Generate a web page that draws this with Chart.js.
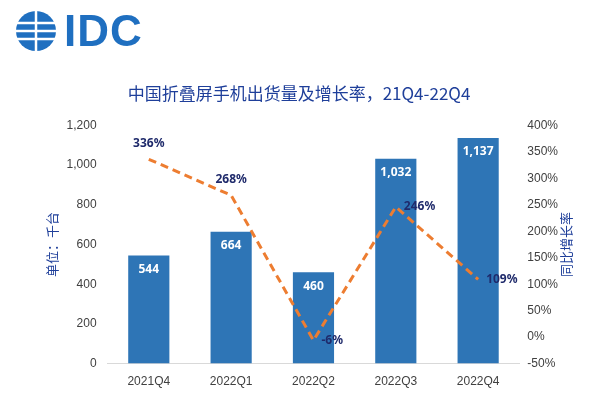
<!DOCTYPE html>
<html><head><meta charset="utf-8">
<script src="https://cdn.jsdelivr.net/npm/chart.js@4"></script>
<style>
body{margin:0;background:#fff;font-family:"Noto Sans CJK SC","Noto Sans",sans-serif}
#wrap{position:relative;width:600px;height:400px}
#logo{position:absolute;left:14px;top:6px;display:flex;align-items:center}
#logo span{font:bold 44px "Liberation Sans",Arial,sans-serif;color:#1f6fc0;margin-left:6px;letter-spacing:1px}
</style></head><body>
<div id="wrap">
<div id="logo"><svg width="44" height="44" viewBox="0 0 44 44">
<circle cx="22" cy="22" r="20" fill="#1f6fc0"/>
<g stroke="#fff" stroke-width="2.5"><line x1="2" y1="14" x2="42" y2="14"/><line x1="2" y1="22" x2="42" y2="22"/><line x1="2" y1="30" x2="42" y2="30"/><line x1="22" y1="2" x2="22" y2="42"/></g>
</svg><span>IDC</span></div>
<canvas id="c" width="600" height="400"></canvas>
</div>
<script>
const quarters = ['2021Q4', '2022Q1', '2022Q2', '2022Q3', '2022Q4'];
const shipments = [544, 664, 460, 1032, 1137];
const growth = [336, 268, -6, 246, 109];

const labelPlugin = {
  id: 'labels',
  afterDatasetsDraw(chart) {
    const ctx = chart.ctx;
    ctx.save();
    ctx.font = 'bold 12px "Noto Sans", sans-serif';
    chart.getDatasetMeta(1).data.forEach((bar, i) => {
      ctx.fillStyle = '#fff';
      ctx.textAlign = 'center';
      ctx.textBaseline = 'top';
      ctx.fillText(shipments[i].toLocaleString('en-US'), bar.x, bar.y + 8);
    });
    chart.getDatasetMeta(0).data.forEach((pt, i) => {
      ctx.fillStyle = '#1f2a6b';
      ctx.textBaseline = 'middle';
      if (i < 2) {
        ctx.textAlign = 'center';
        ctx.fillText(growth[i] + '%', pt.x, pt.y - 16);
      } else {
        ctx.textAlign = 'left';
        ctx.fillText(growth[i] + '%', pt.x + 8, pt.y);
      }
    });
    // right axis title, reading bottom to top
    const a = chart.scales.y1;
    ctx.translate(a.right + 8, (a.top + a.bottom) / 2);
    ctx.rotate(-Math.PI / 2);
    ctx.font = '13px "Noto Sans CJK SC"';
    ctx.fillStyle = '#1f3f9a';
    ctx.textAlign = 'center';
    ctx.fillText('同比增长率', 0, 0);
    ctx.restore();
  }
};

new Chart(document.getElementById('c'), {
  data: {
    labels: quarters,
    datasets: [{
      type: 'line',
      data: growth,
      yAxisID: 'y1',
      borderColor: '#ed7d31',
      borderWidth: 3,
      borderDash: [8, 5],
      pointRadius: 0,
      fill: false
    }, {
      type: 'bar',
      data: shipments,
      yAxisID: 'y',
      backgroundColor: '#2e75b6',
      barPercentage: 0.5,
      categoryPercentage: 1
    }]
  },
  options: {
    responsive: false,
    animation: false,
    layout: { padding: { top: 123, left: 40, right: 42, bottom: 8 } },
    plugins: {
      legend: { display: false },
      tooltip: { enabled: false },
      title: {
        display: true,
        text: '中国折叠屏手机出货量及增长率，21Q4-22Q4',
        color: '#1f3f9a',
        font: { size: 17, family: '"Noto Sans CJK SC"', weight: 'normal' },
        padding: { top: -40, bottom: 22 }
      }
    },
    scales: {
      x: {
        grid: { display: false },
        border: { color: '#d9d9d9' },
        ticks: { color: '#404040', font: { size: 12 } }
      },
      y: {
        min: 0, max: 1200,
        ticks: { stepSize: 200, color: '#404040', font: { size: 12 } },
        grid: { display: false },
        border: { display: false },
        title: { display: true, text: '单位：千台', color: '#1f3f9a', font: { size: 13, family: '"Noto Sans CJK SC"' } }
      },
      y1: {
        position: 'right',
        min: -50, max: 400,
        ticks: { stepSize: 50, padding: 0, color: '#404040', font: { size: 12 }, callback: v => v + '%' },
        grid: { display: false },
        border: { display: false }
      }
    }
  },
  plugins: [labelPlugin]
});
</script>
</body></html>
